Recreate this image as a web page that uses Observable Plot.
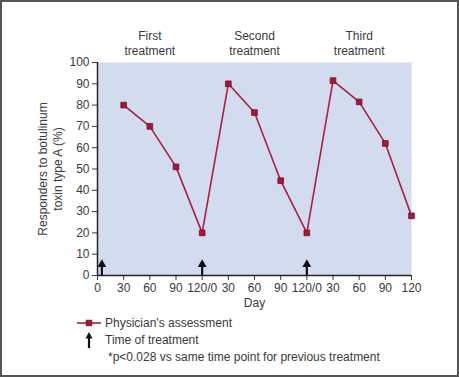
<!DOCTYPE html>
<html>
<head>
<meta charset="utf-8">
<script src="https://cdn.jsdelivr.net/npm/d3@7"></script>
<script src="https://cdn.jsdelivr.net/npm/@observablehq/plot@0.6"></script>
<style>
  html, body { margin: 0; padding: 0; background: #fff; }
  #wrap { position: relative; width: 459px; height: 377px; overflow: hidden; font-family: "Liberation Sans", Arial, sans-serif; color: #3a3a3a; }
  #border { position: absolute; left: 0; top: 0; width: 459px; height: 377px; box-sizing: border-box; border: 2px solid #555; pointer-events: none; }
  .leg { position: absolute; font-size: 12px; line-height: 14px; white-space: nowrap; }
  .legsvg { position: absolute; }
</style>
</head>
<body>
<div id="wrap">
  <div id="chart"></div>
  <svg class="legsvg" style="left:77px; top:318px" width="26" height="10">
    <line x1="0" x2="24" y1="5" y2="5" stroke="#a6223f" stroke-width="1.6"></line>
    <rect x="9.2" y="2.2" width="5.6" height="5.6" fill="#a3193d" stroke="#701029" stroke-width="0.8"></rect>
  </svg>
  <div class="leg" id="leg1" style="left:105px; top:316px"></div>
  <svg class="legsvg" style="left:84px; top:332px" width="10" height="16">
    <line x1="5" x2="5" y1="5" y2="16" stroke="#111" stroke-width="2.2"></line>
    <polygon points="5,0 8.5,6.5 1.5,6.5" fill="#111"></polygon>
  </svg>
  <div class="leg" id="leg2" style="left:105px; top:333px"></div>
  <div class="leg" id="leg3" style="left:108px; top:350px"></div>
  <div id="border"></div>
</div>
<script>
// ---- data ----
const days = [30, 60, 90, 120, 150, 180, 210, 240, 270, 300, 330, 360];
const responders = [80, 70, 51, 20, 90, 76.5, 44.5, 20, 91.5, 81.5, 62, 28];
const treatmentDays = [5, 120, 240];
const treatmentStarts = [0, 120, 240];
const treatmentLabels = ["First\ntreatment", "Second\ntreatment", "Third\ntreatment"];
const xTicks = [0, 30, 60, 90, 120, 150, 180, 210, 240, 270, 300, 330, 360];
const xTickLabels = ["0", "30", "60", "90", "120/0", "30", "60", "90", "120/0", "30", "60", "90", "120"];
const yTicks = [0, 10, 20, 30, 40, 50, 60, 70, 80, 90, 100];
const yLabel = "Responders to botulinum\ntoxin type A (%)";
const xLabel = "Day";
const legendLabels = ["Physician's assessment", "Time of treatment", "*p<0.028 vs same time point for previous treatment"];

const data = days.map((d, i) => ({day: d, value: responders[i]}));
const treatments = treatmentLabels.map((t, i) => ({label: t, center: treatmentStarts[i] + 60}));

const chart = Plot.plot({
  width: 459,
  height: 377,
  marginLeft: 97,
  marginRight: 48,
  marginTop: 62,
  marginBottom: 102,
  style: {fontFamily: "'Liberation Sans', Arial, sans-serif", fontSize: "12px", color: "#3a3a3a", background: "transparent", overflow: "visible"},
  x: {domain: [0, 360]},
  y: {domain: [0, 100]},
  marks: [
    Plot.frame({fill: "#d3dcef", stroke: null}),
    Plot.axisY({ticks: yTicks, tickSize: 5, tickPadding: 3, label: null, fontSize: 12}),
    Plot.axisX({ticks: xTicks, tickSize: 5, tickPadding: 3, label: null, fontSize: 12,
      tickFormat: d => xTickLabels[xTicks.indexOf(d)]}),
    Plot.ruleX([0], {stroke: "#222", strokeWidth: 1.5}),
    Plot.ruleY([0], {stroke: "#222", strokeWidth: 1.5}),
    Plot.line(data, {x: "day", y: "value", stroke: "#a6223f", strokeWidth: 1.6}),
    Plot.dot(data, {x: "day", y: "value", symbol: "square", r: 3.2, fill: "#a3193d", stroke: "#701029", strokeWidth: 0.8}),
    Plot.ruleX(treatmentDays, {y1: 0, y2: 4, stroke: "#111", strokeWidth: 2.2}),
    Plot.dot(treatmentDays, {x: d => d, y: 5.2, symbol: "triangle", r: 3.3, fill: "#111", stroke: null}),
    Plot.text(treatments, {x: "center", text: "label", frameAnchor: "top", dy: -20, lineAnchor: "middle", lineHeight: 1.25, fontSize: 12, fill: "#3a3a3a"}),
    Plot.text([yLabel], {frameAnchor: "left", dx: -47.5, rotate: -90, textAnchor: "middle", lineAnchor: "middle", lineHeight: 1.25, fontSize: 12, fill: "#3a3a3a"}),
    Plot.text([xLabel], {frameAnchor: "bottom", dy: 28, lineAnchor: "middle", fontSize: 12, fill: "#3a3a3a"})
  ]
});
document.getElementById("chart").appendChild(chart);
document.getElementById("leg1").textContent = legendLabels[0];
document.getElementById("leg2").textContent = legendLabels[1];
document.getElementById("leg3").textContent = legendLabels[2];
</script>
</body>
</html>
